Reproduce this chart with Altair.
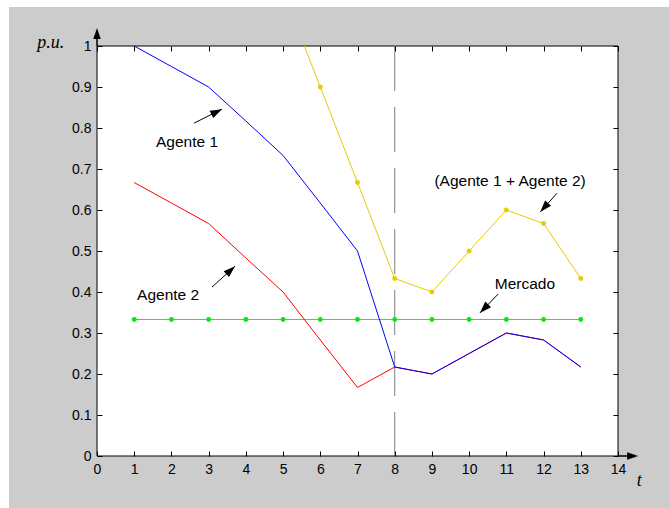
import math
import altair as alt
import pandas as pd

# ---------------- data ----------------
t = [1, 2, 3, 4, 5, 6, 7, 8, 9, 10, 11, 12, 13]
agente1 = [1.0, 0.95, 0.9, 0.817, 0.733, 0.617, 0.5, 0.217, 0.2, 0.25, 0.3, 0.283, 0.217]
agente2 = [0.667, 0.617, 0.567, 0.483, 0.4, 0.283, 0.167, 0.217, 0.2, 0.25, 0.3, 0.283, 0.217]
suma = [1.667, 1.567, 1.467, 1.3, 1.133, 0.9, 0.667, 0.433, 0.4, 0.5, 0.6, 0.567, 0.433]
mercado = [0.333, 0.333, 0.333, 0.333, 0.333, 0.333, 0.333, 0.333, 0.333, 0.333, 0.333, 0.333, 0.333]

x_ticks = [0, 1, 2, 3, 4, 5, 6, 7, 8, 9, 10, 11, 12, 13, 14]
y_ticks = [0, 0.1, 0.2, 0.3, 0.4, 0.5, 0.6, 0.7, 0.8, 0.9, 1.0]

vline_t = [8]

ann_text = ["Agente 1", "Agente 2", "(Agente 1 + Agente 2)", "Mercado"]
ann_t = [2.42, 1.91, 11.10, 11.50]
ann_v = [0.766, 0.393, 0.671, 0.420]
arrow_t0 = [2.61, 3.09, 12.36, 10.78]
arrow_v0 = [0.812, 0.412, 0.641, 0.395]
arrow_t1 = [3.36, 3.71, 11.91, 10.29]
arrow_v1 = [0.846, 0.463, 0.595, 0.349]

# axis arrows (data coordinates, drawn just outside the box)
axarrow_t0 = [0, 14]
axarrow_v0 = [1, 0]
axarrow_t1 = [0, 14.3]
axarrow_v1 = [1.02, 0]
axhead_t = [0, 14.54]
axhead_v = [1.044, 0]
axhead_angle = [0, 90]

axis_lbl_text = ["p.u.", "t"]
axis_lbl_t = [-1.24, 14.57]
axis_lbl_v = [1.007, -0.061]

# ---------------- layout ----------------
W, H = 521, 410
PAD_L, PAD_T, PAD_R, PAD_B = 97, 46, 51, 52
FIG_BG = "#cccccc"
FONT = "Liberation Sans"

xscale = alt.Scale(domain=[0, 14], nice=False, zero=False)
yscale = alt.Scale(domain=[0, 1], nice=False, zero=False)

px_per_t = W / 14
px_per_v = H / 1

def head_angle(t0, v0, t1, v1):
    dx = (t1 - t0) * px_per_t
    dy = -(v1 - v0) * px_per_v
    return math.degrees(math.atan2(dx, -dy)) % 360

ann_angle = [head_angle(a, b, c, d) for a, b, c, d in zip(arrow_t0, arrow_v0, arrow_t1, arrow_v1)]

df = pd.DataFrame({"t": t, "a1": agente1, "a2": agente2, "s": suma, "m": mercado})
ann = pd.DataFrame({"text": ann_text, "t": ann_t, "v": ann_v,
                    "t0": arrow_t0, "v0": arrow_v0, "t1": arrow_t1, "v1": arrow_v1,
                    "ang": ann_angle})
axar = pd.DataFrame({"t0": axarrow_t0, "v0": axarrow_v0, "t1": axarrow_t1, "v1": axarrow_v1,
                     "ht": axhead_t, "hv": axhead_v, "ang": axhead_angle})
axl = pd.DataFrame({"text": axis_lbl_text, "t": axis_lbl_t, "v": axis_lbl_v})
vl = pd.DataFrame({"t": vline_t, "top": [1.0], "bot": [0.0]})
one = pd.DataFrame({"k": [0]})

common_axis = dict(tickSize=5, offset=-5, domain=False, grid=False, title=None,
                   tickColor="black", tickWidth=1, labelFont=FONT, labelFontSize=14,
                   labelColor="black", labelFlush=False, labelOverlap=False, zindex=1)

ax_bottom = alt.Axis(orient="bottom", values=x_ticks, labelPadding=6, format="d", **common_axis)
ax_top = alt.Axis(orient="top", values=x_ticks, labels=False, **common_axis)
ax_left = alt.Axis(orient="left", values=y_ticks, labelPadding=6, format="~g", **common_axis)
ax_right = alt.Axis(orient="right", values=y_ticks, labels=False, **common_axis)

def X(field, axis=None):
    return alt.X(field, type="quantitative", scale=xscale, axis=axis)

def Y(field, axis=None):
    return alt.Y(field, type="quantitative", scale=yscale, axis=axis)

# figure background (grey) and white plot box
fig_bg = alt.Chart(one).mark_rect(fill=FIG_BG).encode(
    x=alt.value(9 - PAD_L), x2=alt.value(W + PAD_R),
    y=alt.value(7 - PAD_T), y2=alt.value(H + PAD_B))
box = alt.Chart(one).mark_rect(fill="white", stroke="black", strokeWidth=1).encode(
    x=alt.value(0), x2=alt.value("width"), y=alt.value(0), y2=alt.value("height"))

vline = alt.Chart(vl).mark_rule(color="#808080", strokeWidth=1, strokeDash=[45, 16]).encode(
    x=X("t"), y=Y("top"), y2="bot")

market_line = alt.Chart(df).mark_line(color="#00ff00", strokeWidth=1).encode(
    x=X("t", ax_bottom), y=Y("m", ax_left))
market_pts = alt.Chart(df).mark_circle(color="#00ee00", size=24, opacity=1).encode(
    x=X("t"), y=Y("m"))

sum_line = alt.Chart(df).mark_line(color="#e6cc00", strokeWidth=1, clip=True).encode(
    x=X("t", ax_top), y=Y("s", ax_right))
sum_pts = alt.Chart(df).mark_circle(color="#e6cc00", size=24, opacity=1, clip=True).encode(
    x=X("t"), y=Y("s"))

red_line = alt.Chart(df).mark_line(color="#ff0000", strokeWidth=1).encode(
    x=X("t"), y=Y("a2"))
blue_line = alt.Chart(df).mark_line(color="#0000ff", strokeWidth=1).encode(
    x=X("t"), y=Y("a1"))

HEAD = "M0,0L-0.68,2L0.68,2Z"

ann_text_layer = alt.Chart(ann).mark_text(font=FONT, fontSize=15.5, color="black",
                                          align="center", baseline="middle").encode(
    x=X("t"), y=Y("v"), text="text:N")
ann_shaft = alt.Chart(ann).mark_rule(color="black", strokeWidth=1).encode(
    x=X("t0"), y=Y("v0"), x2="t1", y2="v1")
ann_head = alt.Chart(ann).mark_point(shape=HEAD, filled=True, color="black",
                                     size=140, opacity=1, strokeWidth=0).encode(
    x=X("t1"), y=Y("v1"), angle=alt.Angle("ang:Q", scale=None))

ax_shaft = alt.Chart(axar).mark_rule(color="black", strokeWidth=1.5).encode(
    x=X("t0"), y=Y("v0"), x2="t1", y2="v1")
ax_head = alt.Chart(axar).mark_point(shape=HEAD, filled=True, color="black",
                                     size=121, opacity=1, strokeWidth=0).encode(
    x=X("ht"), y=Y("hv"), angle=alt.Angle("ang:Q", scale=None))

ax_labels = alt.Chart(axl).mark_text(font="Liberation Serif", fontStyle="italic",
                                     fontSize=18, color="black",
                                     align="center", baseline="middle").encode(
    x=X("t"), y=Y("v"), text="text:N")

chart = alt.layer(
    fig_bg, box, vline, market_line, market_pts, sum_line, sum_pts,
    red_line, blue_line, ann_shaft, ann_head, ann_text_layer,
    ax_shaft, ax_head, ax_labels
).properties(
    width=W, height=H,
    autosize=alt.AutoSizeParams(type="none"),
    padding={"left": PAD_L, "top": PAD_T, "right": PAD_R, "bottom": PAD_B},
    background="white",
).configure_view(stroke=None)

chart.save("out.html", embed_options={"renderer": "svg", "actions": False})
